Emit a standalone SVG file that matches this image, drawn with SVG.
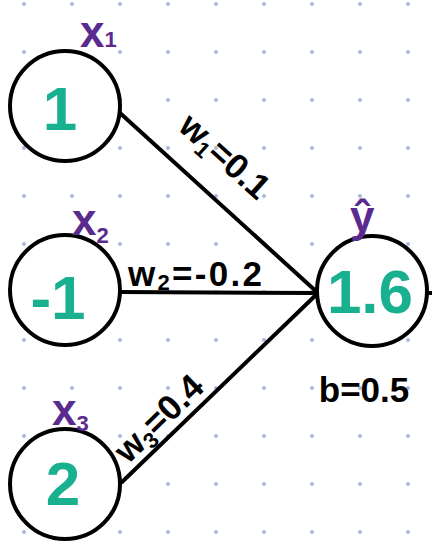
<svg xmlns="http://www.w3.org/2000/svg" width="432" height="542" viewBox="0 0 432 542">
  <defs>
    <pattern id="dots" patternUnits="userSpaceOnUse" x="0" y="-20" width="48" height="48">
      <circle cx="24" cy="24" r="2" fill="#a9b8d6"/>
    </pattern>
    <style>
      .node { fill: #ffffff; stroke: #000000; stroke-width: 4; }
      .edge { stroke: #000000; stroke-width: 4; fill: none; stroke-linecap: round; }
      .val { font-family: "Liberation Sans", Arial, sans-serif; font-weight: bold; fill: #19b090; font-size: 62px; text-anchor: middle; }
      .var { font-family: "Liberation Sans", Arial, sans-serif; font-weight: bold; fill: #5b2a8e; font-size: 44px; }
      .lbl { font-family: "Liberation Sans", Arial, sans-serif; font-weight: bold; fill: #000000; font-size: 35px; text-anchor: middle; }
      .sub { font-size: 22px; }
    </style>
  </defs>
  <rect width="432" height="542" fill="#ffffff"/>
  <rect width="432" height="542" fill="url(#dots)"/>

  <g id="connectors">
    <line class="edge" x1="120" y1="113" x2="318" y2="293"/>
    <line class="edge" x1="119" y1="292" x2="318" y2="293"/>
    <line class="edge" x1="122" y1="482" x2="318" y2="293"/>
    <line class="edge" x1="428" y1="293" x2="434" y2="293"/>
    <text class="lbl" transform="translate(217,165) rotate(42)">w<tspan class="sub" dy="6">1</tspan><tspan dy="-6">=0.1</tspan></text>
    <text class="lbl" x="195" y="286" textLength="134" lengthAdjust="spacing">w<tspan class="sub" dy="4">2</tspan><tspan dy="-4">=-0.2</tspan></text>
    <text class="lbl" transform="translate(167,427) rotate(-44)">w<tspan class="sub" dy="6">3</tspan><tspan dy="-6">=0.4</tspan></text>
  </g>

  <g id="x1">
    <circle class="node" cx="65" cy="106" r="55"/>
    <text class="val" x="60" y="130">1</text>
    <text class="var" x="80" y="47">x<tspan class="sub" dy="0">1</tspan></text>
  </g>

  <g id="x2">
    <circle class="node" cx="65" cy="290" r="55"/>
    <text class="val" x="58" y="319">-1</text>
    <text class="var" x="72" y="235">x<tspan class="sub" dy="8">2</tspan></text>
  </g>

  <g id="x3">
    <circle class="node" cx="65" cy="484" r="55"/>
    <text class="val" x="63" y="505">2</text>
    <text class="var" x="52" y="425">x<tspan class="sub" dy="6">3</tspan></text>
  </g>

  <g id="yhat">
    <circle class="node" cx="372" cy="291" r="55"/>
    <text class="val" x="370" y="313" font-size="52px">1.6</text>
    <text class="var" x="350" y="232" font-size="48px">ŷ</text>
    <text class="lbl" x="364" y="402" font-size="40px">b=0.5</text>
  </g>
</svg>
